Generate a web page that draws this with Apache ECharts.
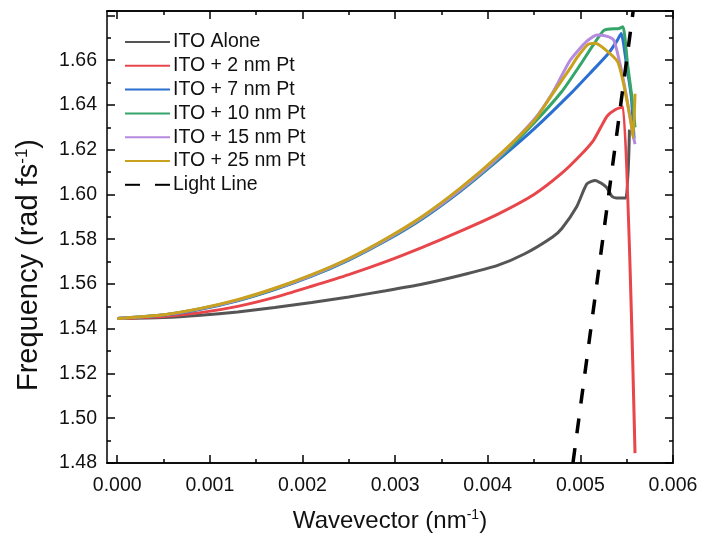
<!DOCTYPE html>
<html>
<head>
<meta charset="utf-8">
<script src="https://cdn.jsdelivr.net/npm/echarts@6/dist/echarts.min.js"></script>
<style>
  html, body { margin: 0; padding: 0; background: #ffffff; }
  #chart { width: 701px; height: 539px; }
</style>
</head>
<body>
<div id="chart"></div>
<script>
// Surface plasmon dispersion: frequency vs. wavevector for ITO with Pt overlayers.
// Each series is a list of [wavevector (nm^-1), frequency (rad/fs)] pairs.
const seriesNames = ['ITO Alone', 'ITO + 2 nm Pt', 'ITO + 7 nm Pt', 'ITO + 10 nm Pt',
                     'ITO + 15 nm Pt', 'ITO + 25 nm Pt', 'Light Line'];

const itoAlone = [
  [0.0000, 1.5446], [0.0005, 1.5450], [0.0009, 1.5460], [0.0013, 1.5475], [0.0017, 1.5495],
  [0.0021, 1.5517], [0.0025, 1.5542], [0.0029, 1.5570], [0.0033, 1.5600], [0.0037, 1.5638],
  [0.0041, 1.5682], [0.0044, 1.5735], [0.0047, 1.5810], [0.0048, 1.5848], [0.00496, 1.5945],
  [0.00507, 1.6047], [0.00516, 1.6063], [0.00528, 1.6033], [0.00534, 1.5992], [0.00539, 1.5984],
  [0.00549, 1.5984], [0.00553, 1.6290]
];
const ito2nm = [
  [0.0000, 1.5446], [0.0005, 1.5455], [0.0009, 1.5472], [0.0013, 1.5500], [0.0017, 1.5540],
  [0.0021, 1.5590], [0.0025, 1.5642], [0.0029, 1.5700], [0.0033, 1.5765], [0.0037, 1.5835],
  [0.0041, 1.5910], [0.0045, 1.6000], [0.0048, 1.6095], [0.0050, 1.6175], [0.00514, 1.6241],
  [0.00522, 1.6300], [0.00529, 1.6351], [0.00538, 1.6380], [0.00546, 1.6391], [0.00559, 1.4844]
];
const ito7nm = [
  [0.0000, 1.5446], [0.0005, 1.5461], [0.0009, 1.5487], [0.0013, 1.5525], [0.0017, 1.5575],
  [0.0021, 1.5635], [0.0025, 1.5707], [0.0029, 1.5793], [0.0033, 1.5893], [0.0037, 1.6013],
  [0.0041, 1.6149], [0.0045, 1.6293], [0.0049, 1.6453], [0.0051, 1.6540], [0.0053, 1.6629],
  [0.0054, 1.6690], [0.00544, 1.6720], [0.0055, 1.6576], [0.00555, 1.6435], [0.00558, 1.6250]
];
const ito10nm = [
  [0.0000, 1.5446], [0.0005, 1.5462], [0.0009, 1.5489], [0.0013, 1.5527], [0.0017, 1.5577],
  [0.0021, 1.5637], [0.0025, 1.5709], [0.0029, 1.5796], [0.0033, 1.5896], [0.0037, 1.6017],
  [0.0041, 1.6155], [0.0045, 1.6320], [0.0048, 1.6460], [0.0050, 1.6580], [0.00515, 1.6675],
  [0.00526, 1.6735], [0.00542, 1.6742], [0.00546, 1.6750], [0.00551, 1.6580], [0.00557, 1.6390],
  [0.00559, 1.6300]
];
const ito15nm = [
  [0.0000, 1.5446], [0.0005, 1.5462], [0.0009, 1.5490], [0.0013, 1.5528], [0.0017, 1.5579],
  [0.0021, 1.5639], [0.0025, 1.5711], [0.0029, 1.5798], [0.0033, 1.5899], [0.0037, 1.6020],
  [0.0041, 1.6160], [0.0045, 1.6335], [0.0047, 1.6455], [0.00489, 1.6600], [0.00507, 1.6685],
  [0.00518, 1.6713], [0.00528, 1.6708], [0.00536, 1.6690], [0.00543, 1.6580], [0.0055, 1.6432],
  [0.00556, 1.6285], [0.00559, 1.6225]
];
const ito25nm = [
  [0.0000, 1.5446], [0.0005, 1.5463], [0.0009, 1.5491], [0.0013, 1.5530], [0.0017, 1.5581],
  [0.0021, 1.5642], [0.0025, 1.5714], [0.0029, 1.5802], [0.0033, 1.5904], [0.0037, 1.6027],
  [0.0041, 1.6168], [0.0045, 1.6330], [0.0047, 1.6450], [0.0049, 1.6570], [0.00496, 1.6610],
  [0.00508, 1.6670], [0.00516, 1.6676], [0.00525, 1.6654], [0.0054, 1.6595], [0.00546, 1.6508],
  [0.00551, 1.6404], [0.00555, 1.6315], [0.00557, 1.6255], [0.00559, 1.6450]
];
const lightLine = [[0.00492, 1.48], [0.00557, 1.682]];

// Axis ranges and tick positions
const xMin = -0.00011, xMax = 0.006;
const xMajorTicks = [0, 0.001, 0.002, 0.003, 0.004, 0.005, 0.006];
const xMinorTicks = [0.0005, 0.0015, 0.0025, 0.0035, 0.0045, 0.0055];
const yMin = 1.48, yMax = 1.682, yStep = 0.02;

const palette = ['#555555', '#e8464a', '#2b6fd0', '#35a56a', '#b58ae0', '#c8a11e', '#000000'];
const font = 'Liberation Sans, Arial, sans-serif';

const chart = echarts.init(document.getElementById('chart'), null, { renderer: 'canvas' });

const frameLine = { show: true, onZero: false, lineStyle: { color: '#000', width: 1.5 } };
const supStyle = { fontSize: 14, lineHeight: 14, verticalAlign: 'top', fontFamily: font, color: '#111' };

function xAxisDef(pos, ticks, len, withLabels) {
  return {
    type: 'value', position: pos, min: xMin, max: xMax,
    axisLine: frameLine,
    splitLine: { show: false },
    axisTick: { show: true, inside: true, length: len, customValues: ticks,
                lineStyle: { color: '#000', width: 1.5 } },
    axisLabel: withLabels ? {
      show: true, customValues: ticks, margin: 13, color: '#111', fontSize: 19.5, fontFamily: font,
      formatter: v => v.toFixed(3)
    } : { show: false }
  };
}

const xAxes = [
  Object.assign(xAxisDef('bottom', xMajorTicks, 8, true), {
    name: 'Wavevector (nm{sup|-1})', nameLocation: 'middle', nameGap: 45,
    nameTextStyle: { color: '#111', fontSize: 24, fontFamily: font, lineHeight: 26, rich: { sup: supStyle } }
  }),
  xAxisDef('bottom', xMinorTicks, 4, false),
  xAxisDef('top', xMajorTicks, 8, false),
  xAxisDef('top', xMinorTicks, 4, false)
];

function yAxisDef(pos, withLabels) {
  return {
    type: 'value', position: pos, min: yMin, max: yMax, interval: yStep,
    axisLine: frameLine,
    splitLine: { show: false },
    axisTick: { show: true, inside: true, length: 8, lineStyle: { color: '#000', width: 1.5 } },
    minorTick: { show: true, splitNumber: 2, length: 4, lineStyle: { color: '#000', width: 1.5 } },
    axisLabel: withLabels ? {
      show: true, margin: 10, color: '#111', fontSize: 19.5, fontFamily: font,
      formatter: v => (v > 1.675 ? '' : v.toFixed(2))
    } : { show: false }
  };
}

const yAxes = [yAxisDef('left', true), yAxisDef('right', false)];

const dataSets = [itoAlone, ito2nm, ito7nm, ito10nm, ito15nm, ito25nm, lightLine];

const series = dataSets.map((d, i) => ({
  name: seriesNames[i],
  type: 'line',
  xAxisIndex: 0, yAxisIndex: 0,
  data: d,
  showSymbol: false, symbol: 'none',
  smooth: i === 6 ? false : 0.2,
  clip: true,
  z: 2 + i,
  lineStyle: i === 6
    ? { color: palette[i], width: 3.5, type: [15, 15] }
    : { color: palette[i], width: 3 },
  itemStyle: { color: palette[i] },
  emphasis: { disabled: true }
}));

chart.setOption({
  animation: false,
  backgroundColor: '#ffffff',
  grid: { left: 107, right: 28, top: 11, bottom: 71, containLabel: false },
  legend: {
    orient: 'vertical', left: 124, top: 32, padding: 0,
    itemWidth: 45, itemHeight: 14, itemGap: 3.8,
    data: seriesNames,
    itemStyle: { color: 'transparent', borderColor: 'transparent', borderWidth: 0, opacity: 0 },
    textStyle: { fontSize: 19.5, fontFamily: font, color: '#111', lineHeight: 19, padding: [0, 0, 0, -2] },
    selectedMode: false
  },
  // Vertical axis title, set beside the left axis and read bottom-to-top
  graphic: [{
    type: 'text', x: 29, y: 265, rotation: Math.PI / 2, silent: true,
    style: {
      text: 'Frequency (rad fs{sup|-1})',
      fontSize: 29, fontFamily: font, fill: '#111',
      align: 'center', verticalAlign: 'middle', lineHeight: 30,
      rich: { sup: { fontSize: 17, lineHeight: 17, verticalAlign: 'top', fontFamily: font, fill: '#111' } }
    }
  }],
  xAxis: xAxes,
  yAxis: yAxes,
  series: series
});
</script>
</body>
</html>
